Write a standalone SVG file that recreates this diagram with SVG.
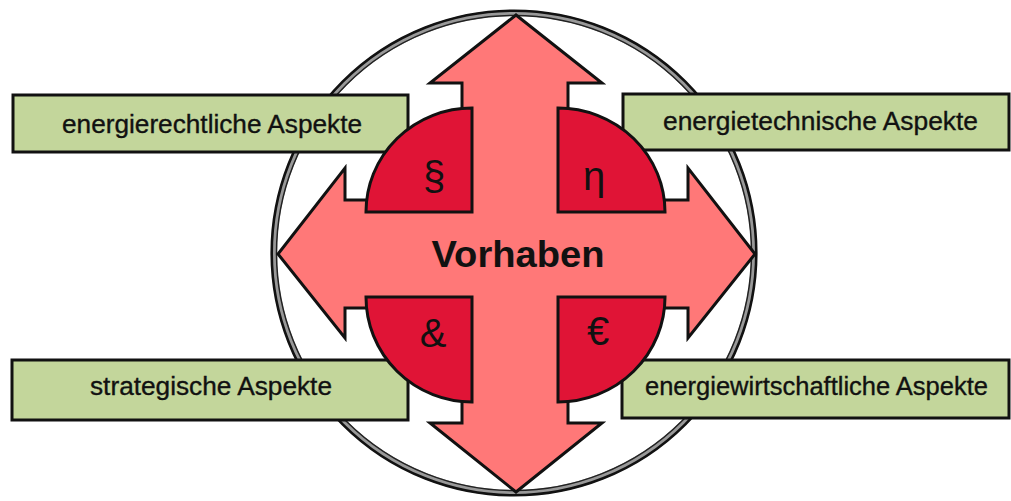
<svg xmlns="http://www.w3.org/2000/svg" width="1011" height="501" viewBox="0 0 1011 501">
<style>
.box{fill:#C3D69B;stroke:#111;stroke-width:3}
.lbl{font-family:"Liberation Sans",Arial,sans-serif;font-size:26px;fill:#111;stroke:#111;stroke-width:0.35}
.q{fill:#E01436;stroke:#111;stroke-width:3;stroke-linejoin:miter}
.sym{font-family:"Liberation Sans",Arial,sans-serif;font-size:40px;fill:#111;text-anchor:middle}
</style>
<rect width="1011" height="501" fill="#fff"/>
<g id="ring">
<circle cx="514" cy="253" r="240" fill="#fff" stroke="#999" stroke-width="6"/>
<circle cx="514" cy="253" r="242.3" fill="none" stroke="#111" stroke-width="2.6"/>
<circle cx="514" cy="253" r="237.5" fill="none" stroke="#222" stroke-width="1.5"/>
</g>
<g id="cross">
<polygon points="516,15 602,83 568,83 568,200 688,200 688,168 755,254 688,338 688,308 568,308 568,423 602,423 516,492 430,423 462,423 462,308 345,308 345,338 278,254 345,168 345,200 462,200 462,83 430,83" fill="#FF7878" stroke="#111" stroke-width="3" stroke-linejoin="miter"/>
<text x="518" y="267" font-family="'Liberation Sans',Arial,sans-serif" font-size="36" font-weight="bold" fill="#111" text-anchor="middle" textLength="173" lengthAdjust="spacingAndGlyphs">Vorhaben</text>
</g>
<g id="box-recht">
<rect class="box" x="13" y="95" width="395" height="57"/>
<text class="lbl" x="62" y="133" textLength="300" lengthAdjust="spacingAndGlyphs">energierechtliche Aspekte</text>
</g>
<g id="box-technik">
<rect class="box" x="623" y="94" width="386" height="56"/>
<text class="lbl" x="663" y="130" textLength="315" lengthAdjust="spacingAndGlyphs">energietechnische Aspekte</text>
</g>
<g id="box-strategie">
<rect class="box" x="12" y="360" width="396" height="60"/>
<text class="lbl" x="90" y="395" textLength="242" lengthAdjust="spacingAndGlyphs">strategische Aspekte</text>
</g>
<g id="box-wirtschaft">
<rect class="box" x="622" y="360" width="387" height="58"/>
<text class="lbl" x="645" y="395" textLength="343" lengthAdjust="spacingAndGlyphs">energiewirtschaftliche Aspekte</text>
</g>
<g id="q-recht">
<path class="q" d="M472,108 L472,212 L366,212 A106,104 0 0 1 472,108 Z"/>
<text class="sym" x="434" y="190">§</text>
</g>
<g id="q-technik">
<path class="q" d="M558,108 A107,104 0 0 1 665,212 L558,212 Z"/>
<text class="sym" x="594" y="190">η</text>
</g>
<g id="q-strategie">
<path class="q" d="M472,297 L366,297 A106,105 0 0 0 472,402 Z"/>
<text class="sym" x="433" y="347">&amp;</text>
</g>
<g id="q-wirtschaft">
<path class="q" d="M558,297 L665,297 A107,105 0 0 1 558,402 Z"/>
<text class="sym" x="598" y="345">€</text>
</g>
</svg>
